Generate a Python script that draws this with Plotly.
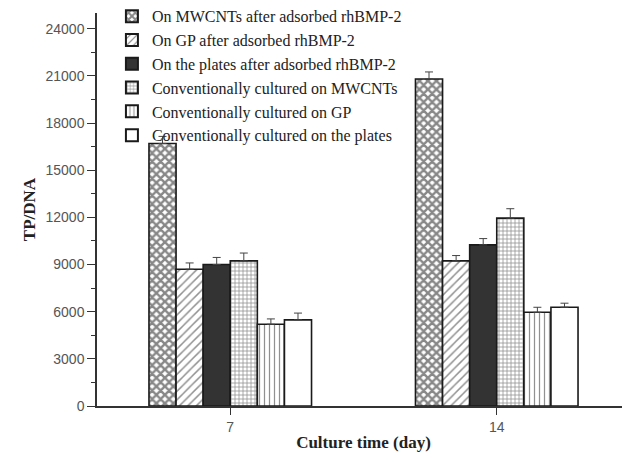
import plotly.graph_objects as go

days = ["7", "14"]
series_names = [
    "On MWCNTs after adsorbed rhBMP-2",
    "On GP after adsorbed rhBMP-2",
    "On the plates after adsorbed rhBMP-2",
    "Conventionally cultured on MWCNTs",
    "Conventionally cultured on GP",
    "Conventionally cultured on the plates",
]
mwcnt_ads = [16700, 20800]
gp_ads = [8700, 9230]
plates_ads = [9000, 10250]
conv_mwcnt = [9230, 11950]
conv_gp = [5200, 5960]
conv_plates = [5480, 6280]

mwcnt_ads_err = [450, 450]
gp_ads_err = [400, 340]
plates_ads_err = [450, 400]
conv_mwcnt_err = [500, 600]
conv_gp_err = [340, 320]
conv_plates_err = [430, 260]

y_ticks = [0, 3000, 6000, 9000, 12000, 15000, 18000, 21000, 24000]
y_minor_ticks = [1500, 4500, 7500, 10500, 13500, 16500, 19500, 22500]

values = [mwcnt_ads, gp_ads, plates_ads, conv_mwcnt, conv_gp, conv_plates]
errors = [mwcnt_ads_err, gp_ads_err, plates_ads_err, conv_mwcnt_err, conv_gp_err, conv_plates_err]
patterns = [
    dict(shape="x", size=6, solidity=0.65, fgcolor="#111", bgcolor="white"),
    dict(shape="/", size=6, solidity=0.25, fgcolor="#222", bgcolor="white"),
    dict(shape="", fgcolor="#333", bgcolor="#333"),
    dict(shape="+", size=4, solidity=0.35, fgcolor="#222", bgcolor="white"),
    dict(shape="|", size=5, solidity=0.25, fgcolor="#222", bgcolor="white"),
    dict(shape="", fgcolor="white", bgcolor="white"),
]
colors = ["white", "white", "#333333", "white", "white", "white"]

fig = go.Figure()
for name, v, e, p, c in zip(series_names, values, errors, patterns, colors):
    fig.add_trace(go.Bar(
        x=days, y=v, name=name,
        marker=dict(color=c, pattern=p, line=dict(color="#1a1a1a", width=1.6)),
        error_y=dict(type="data", symmetric=False, array=e, arrayminus=[0] * len(e),
                     color="#444", thickness=1, width=4),
    ))

# page body has an 8px margin, so the figure is sized/offset to compensate
fig.update_layout(
    width=622, height=454,
    margin=dict(l=89, r=0, t=5, b=56, autoexpand=False),
    paper_bgcolor="white", plot_bgcolor="white",
    barmode="group", bargap=0.39, bargroupgap=0,
    showlegend=True,
    legend=dict(x=0.028, y=1.035, xanchor="left", yanchor="top",
                font=dict(family="Liberation Serif", size=16, color="#222"),
                bgcolor="rgba(0,0,0,0)", tracegroupgap=0, itemsizing="constant"),
    font=dict(family="Liberation Sans", size=14, color="#555"),
)
fig.update_xaxes(
    range=[-0.5, 1.5], showline=True, linecolor="#333", linewidth=1.5,
    ticks="outside", ticklen=7, tickcolor="#333", showgrid=False,
    tickfont=dict(family="Liberation Sans", size=14, color="#555"),
    title=dict(text="<b>Culture time (day)</b>", standoff=3,
               font=dict(family="Liberation Serif", size=17, color="#222")),
)
fig.update_yaxes(
    range=[0, 25000], tickvals=y_ticks, tickformat="d",
    showline=True, linecolor="#333", linewidth=1.5,
    ticks="outside", ticklen=8, tickcolor="#333", showgrid=False, zeroline=False,
    minor=dict(tickvals=y_minor_ticks, ticks="outside", ticklen=4, tickcolor="#333"),
    tickfont=dict(family="Liberation Sans", size=14, color="#555"),
    title=dict(text="<b>TP/DNA</b>", standoff=6,
               font=dict(family="Liberation Serif", size=17, color="#222")),
)

fig.write_html("out.html")
